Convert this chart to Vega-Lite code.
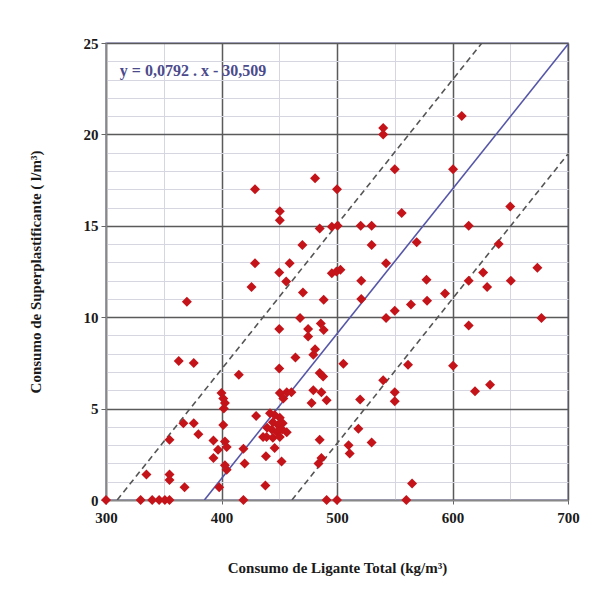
{
  "$schema": "https://vega.github.io/schema/vega-lite/v6.json",
  "width": 462,
  "height": 457,
  "autosize": {"type": "none"},
  "padding": {"left": 106, "top": 43, "right": 28, "bottom": 94},
  "background": "#ffffff",
  "config": {
    "view": {"stroke": "#9a9ac6", "strokeWidth": 1.5},
    "font": "Liberation Serif"
  },
  "datasets": {
    "points": [
      {"ligante": 300, "sp": 0}, {"ligante": 330, "sp": 0}, {"ligante": 340, "sp": 0}, {"ligante": 346, "sp": 0},
      {"ligante": 351, "sp": 0}, {"ligante": 355, "sp": 0}, {"ligante": 419, "sp": 0}, {"ligante": 491, "sp": 0},
      {"ligante": 500, "sp": 0}, {"ligante": 560, "sp": 0}, {"ligante": 565, "sp": 0.9}, {"ligante": 335, "sp": 1.4},
      {"ligante": 355, "sp": 1.4}, {"ligante": 355, "sp": 1.1}, {"ligante": 368, "sp": 0.7}, {"ligante": 398, "sp": 0.7},
      {"ligante": 438, "sp": 0.8}, {"ligante": 355, "sp": 3.3}, {"ligante": 367, "sp": 4.2}, {"ligante": 376, "sp": 4.2},
      {"ligante": 380, "sp": 3.6}, {"ligante": 363, "sp": 7.6}, {"ligante": 376, "sp": 7.5}, {"ligante": 370, "sp": 10.85},
      {"ligante": 415, "sp": 6.85}, {"ligante": 400, "sp": 5.85}, {"ligante": 401.5, "sp": 5.55}, {"ligante": 403, "sp": 5.3},
      {"ligante": 402, "sp": 5.0}, {"ligante": 401.5, "sp": 4.1}, {"ligante": 393, "sp": 3.25}, {"ligante": 403, "sp": 3.2},
      {"ligante": 404.5, "sp": 2.9}, {"ligante": 397, "sp": 2.75}, {"ligante": 393, "sp": 2.3}, {"ligante": 403, "sp": 1.9},
      {"ligante": 404.5, "sp": 1.65}, {"ligante": 419, "sp": 2.8}, {"ligante": 420, "sp": 2.0}, {"ligante": 430, "sp": 4.6},
      {"ligante": 439, "sp": 3.45}, {"ligante": 438.5, "sp": 2.4}, {"ligante": 450, "sp": 7.2}, {"ligante": 464, "sp": 7.8},
      {"ligante": 479.5, "sp": 7.95}, {"ligante": 481, "sp": 8.25}, {"ligante": 485, "sp": 6.95}, {"ligante": 488, "sp": 6.75},
      {"ligante": 505.5, "sp": 7.45}, {"ligante": 450.5, "sp": 5.85}, {"ligante": 456.5, "sp": 5.9}, {"ligante": 460.5, "sp": 5.9},
      {"ligante": 453.5, "sp": 5.55}, {"ligante": 479.5, "sp": 6.0}, {"ligante": 486.5, "sp": 5.9}, {"ligante": 491, "sp": 5.45},
      {"ligante": 478, "sp": 5.3}, {"ligante": 540, "sp": 6.55}, {"ligante": 550, "sp": 5.9}, {"ligante": 550, "sp": 5.4},
      {"ligante": 520, "sp": 5.5}, {"ligante": 442, "sp": 4.75}, {"ligante": 446, "sp": 4.65}, {"ligante": 450.5, "sp": 4.5},
      {"ligante": 444.5, "sp": 4.25}, {"ligante": 449, "sp": 4.1}, {"ligante": 453, "sp": 4.2}, {"ligante": 439.5, "sp": 3.95},
      {"ligante": 443.5, "sp": 3.85}, {"ligante": 448, "sp": 3.7}, {"ligante": 452.5, "sp": 3.85}, {"ligante": 456.5, "sp": 3.7},
      {"ligante": 436, "sp": 3.45}, {"ligante": 444.5, "sp": 3.4}, {"ligante": 450.5, "sp": 3.45}, {"ligante": 446, "sp": 2.85},
      {"ligante": 452, "sp": 2.1}, {"ligante": 485, "sp": 3.3}, {"ligante": 486.5, "sp": 2.3}, {"ligante": 484, "sp": 2.0},
      {"ligante": 518.5, "sp": 3.9}, {"ligante": 510, "sp": 3.0}, {"ligante": 511, "sp": 2.55}, {"ligante": 530, "sp": 3.15},
      {"ligante": 540, "sp": 20.35}, {"ligante": 540, "sp": 20.0}, {"ligante": 550, "sp": 18.1}, {"ligante": 481, "sp": 17.6},
      {"ligante": 429, "sp": 17.0}, {"ligante": 500, "sp": 17.0}, {"ligante": 450.5, "sp": 15.8}, {"ligante": 450.5, "sp": 15.3},
      {"ligante": 556, "sp": 15.7}, {"ligante": 485, "sp": 14.85}, {"ligante": 495.5, "sp": 14.95}, {"ligante": 500.5, "sp": 15.0},
      {"ligante": 520.5, "sp": 15.0}, {"ligante": 530, "sp": 15.0}, {"ligante": 470, "sp": 13.95}, {"ligante": 530, "sp": 13.95},
      {"ligante": 569, "sp": 14.1}, {"ligante": 429, "sp": 12.95}, {"ligante": 459, "sp": 12.95}, {"ligante": 542.5, "sp": 12.95},
      {"ligante": 450, "sp": 12.45}, {"ligante": 456, "sp": 11.95}, {"ligante": 426, "sp": 11.65}, {"ligante": 499.5, "sp": 12.5},
      {"ligante": 495.5, "sp": 12.4}, {"ligante": 503, "sp": 12.6}, {"ligante": 521, "sp": 12.0}, {"ligante": 470.5, "sp": 11.35},
      {"ligante": 488.5, "sp": 10.95}, {"ligante": 521, "sp": 11.0}, {"ligante": 468, "sp": 9.95}, {"ligante": 450, "sp": 9.35},
      {"ligante": 475, "sp": 9.35}, {"ligante": 475, "sp": 8.95}, {"ligante": 486, "sp": 9.65}, {"ligante": 488.5, "sp": 9.3},
      {"ligante": 542.5, "sp": 9.95}, {"ligante": 550, "sp": 10.35}, {"ligante": 564, "sp": 10.7}, {"ligante": 608, "sp": 21.0},
      {"ligante": 600.5, "sp": 18.1}, {"ligante": 650, "sp": 16.05}, {"ligante": 614, "sp": 15.0}, {"ligante": 640, "sp": 14.0},
      {"ligante": 626.5, "sp": 12.45}, {"ligante": 673.5, "sp": 12.7}, {"ligante": 577.5, "sp": 12.05}, {"ligante": 614, "sp": 12.0},
      {"ligante": 630, "sp": 11.65}, {"ligante": 650.5, "sp": 12.0}, {"ligante": 593.5, "sp": 11.3}, {"ligante": 578, "sp": 10.9},
      {"ligante": 614, "sp": 9.55}, {"ligante": 677, "sp": 9.95}, {"ligante": 561.5, "sp": 7.4}, {"ligante": 600.5, "sp": 7.35},
      {"ligante": 619.5, "sp": 5.95}, {"ligante": 632.5, "sp": 6.3}
    ],
    "lines": [
      {"line": "reg", "ligante": 385.2, "sp": 0}, {"line": "reg", "ligante": 700, "sp": 24.93},
      {"line": "sup", "ligante": 309.7, "sp": 0}, {"line": "sup", "ligante": 625.4, "sp": 25},
      {"line": "inf", "ligante": 461, "sp": 0}, {"line": "inf", "ligante": 700, "sp": 18.93}
    ],
    "label": [
      {"ligante": 312, "sp": 23.45, "text": "y = 0,0792 . x - 30,509"}
    ]
  },
  "layer": [
    {
      "data": {"name": "lines"},
      "transform": [{"filter": "datum.line !== 'reg'"}],
      "mark": {"type": "line", "color": "#555555", "strokeWidth": 1.6, "strokeDash": [6, 4], "clip": true},
      "encoding": {
        "x": {
          "field": "ligante", "type": "quantitative",
          "scale": {"domain": [300, 700], "nice": false, "zero": false},
          "axis": {
            "values": [300, 350, 400, 450, 500, 550, 600, 650, 700],
            "tickCount": 50,
            "format": "d",
            "labelFlush": false,
            "labelExpr": "datum.value % 100 === 0 ? datum.label : ''",
            "labelFont": "Liberation Serif", "labelFontSize": 15, "labelFontWeight": "bold", "labelColor": "#1a1a1a",
            "labelPadding": 6,
            "grid": true,
            "gridColor": {"condition": {"test": "datum.value % 100 === 0", "value": "#5a5a5a"}, "value": "#d6d6e0"},
            "gridWidth": {"condition": {"test": "datum.value % 100 === 0", "value": 1.5}, "value": 1},
            "tickColor": {"condition": {"test": "datum.value % 100 === 0", "value": "#666666"}, "value": "transparent"},
            "tickSize": 4,
            "domainColor": "#888888", "domainWidth": 1.5,
            "title": "Consumo de Ligante Total (kg/m³)",
            "titleFont": "Liberation Serif", "titleFontSize": 15, "titleFontWeight": "bold", "titleColor": "#1a1a1a",
            "titleY": 67, "titleBaseline": "middle"
          }
        },
        "y": {
          "field": "sp", "type": "quantitative",
          "scale": {"domain": [0, 25], "nice": false},
          "axis": {
            "values": [0,1,2,3,4,5,6,7,8,9,10,11,12,13,14,15,16,17,18,19,20,21,22,23,24,25],
            "tickCount": 50,
            "format": "d",
            "labelFlush": false,
            "labelExpr": "datum.value % 5 === 0 ? datum.label : ''",
            "labelFont": "Liberation Serif", "labelFontSize": 15, "labelFontWeight": "bold", "labelColor": "#1a1a1a",
            "labelPadding": 3,
            "labelOverlap": false,
            "grid": true,
            "gridColor": {"condition": {"test": "datum.value % 5 === 0", "value": "#5a5a5a"}, "value": "#d6d6e0"},
            "gridWidth": {"condition": {"test": "datum.value % 5 === 0", "value": 1.5}, "value": 1},
            "tickColor": {"condition": {"test": "datum.value % 5 === 0", "value": "#666666"}, "value": "transparent"},
            "tickSize": 5,
            "domainColor": "#888888", "domainWidth": 1.5,
            "title": "Consumo de Superplastificante ( l/m³)",
            "titleFont": "Liberation Serif", "titleFontSize": 15, "titleFontWeight": "bold", "titleColor": "#1a1a1a",
            "titleX": -71, "titleBaseline": "middle", "titleAngle": -90
          }
        },
        "detail": {"field": "line"}
      }
    },
    {
      "data": {"name": "lines"},
      "transform": [{"filter": "datum.line === 'reg'"}],
      "mark": {"type": "line", "color": "#5656a8", "strokeWidth": 1.6, "clip": true},
      "encoding": {
        "x": {"field": "ligante", "type": "quantitative"},
        "y": {"field": "sp", "type": "quantitative"}
      }
    },
    {
      "data": {"name": "points"},
      "mark": {"type": "point", "shape": "diamond", "filled": true, "color": "#c4141a", "size": 100, "opacity": 1, "clip": false},
      "encoding": {
        "x": {"field": "ligante", "type": "quantitative"},
        "y": {"field": "sp", "type": "quantitative"}
      }
    },
    {
      "data": {"name": "label"},
      "mark": {"type": "text", "align": "left", "baseline": "middle", "font": "Liberation Serif", "fontSize": 16, "fontWeight": "bold", "color": "#4b4b8c"},
      "encoding": {
        "x": {"field": "ligante", "type": "quantitative"},
        "y": {"field": "sp", "type": "quantitative"},
        "text": {"field": "text"}
      }
    }
  ]
}
